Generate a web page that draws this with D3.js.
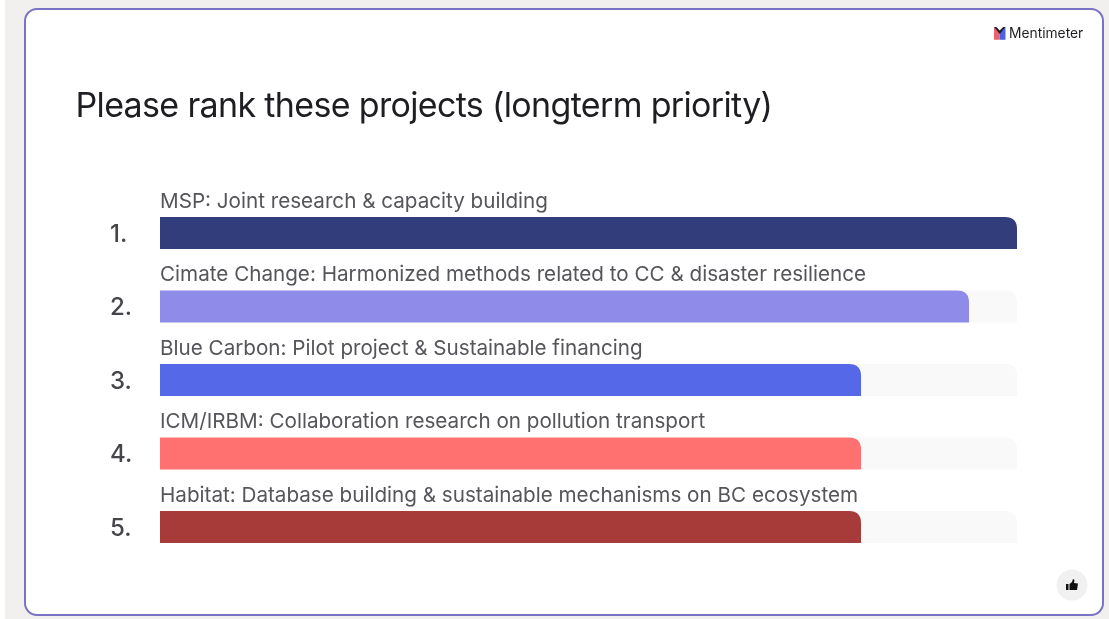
<!DOCTYPE html>
<html lang="en">
<head>
<meta charset="utf-8">
<title>Please rank these projects</title>
<script src="https://d3js.org/d3.v7.min.js"></script>
<style>
    html, body { margin: 0; padding: 0; background: #fff; overflow: hidden; }
    /* the reference is a soft screenshot, so take the edge off a little */
    svg { display: block; font-family: Inter, "Noto Sans", sans-serif; filter: blur(0.4px); }
</style>
</head>
<body>
<svg id="chart" width="1109" height="619"></svg>
<script>
const title = "Please rank these projects (longterm priority)";
const brand = "Mentimeter";
const ranks = ["1.", "2.", "3.", "4.", "5."];
const projects = [
    "MSP: Joint research & capacity building",
    "Cimate Change: Harmonized methods related to CC & disaster resilience",
    "Blue Carbon: Pilot project & Sustainable financing",
    "ICM/IRBM: Collaboration research on pollution transport",
    "Habitat: Database building & sustainable mechanisms on BC ecosystem"
];
// share of the top score
const scores = [1, 0.944, 0.818, 0.818, 0.818];
const colors = ["#323e7c", "#8e8ce8", "#5468e8", "#ff7070", "#a63b3a"];

const svg = d3.select("#chart");

// slide background + frame
svg.append("rect").attr("x", 5).attr("width", 1104).attr("height", 619).attr("fill", "#f1f0ee");
svg.append("rect")
    .attr("x", 25).attr("y", 9).attr("width", 1078).attr("height", 606).attr("rx", 12)
    .attr("fill", "#fff").attr("stroke", "#7a72c4").attr("stroke-width", 2);

svg.append("text").attr("x", 75.5).attr("y", 117)
    .attr("font-size", 34).attr("letter-spacing", -0.66).attr("fill", "#1e1e22")
    .text(title);

// logo
const logo = svg.append("g").attr("transform", "translate(994,27) scale(1.15)");
logo.append("path").attr("d", "M0 0L5 5L5 11L0 11Z").attr("fill", "#e8636b");
logo.append("path").attr("d", "M5 5L10 0L10 11L5 11Z").attr("fill", "#4a63e0");
logo.append("path").attr("d", "M0 0L2 0L5 3L8 0L10 0L5 6Z").attr("fill", "#1b1b2a");
svg.append("text").attr("x", 1009).attr("y", 38)
    .attr("font-size", 13.8).attr("fill", "#1e1e22")
    .text(brand);

// bars
const x = d3.scaleLinear().domain([0, 1]).range([160, 1017]);
const y = d3.scaleBand().domain(ranks).range([217, 543]).paddingInner(0.5646).paddingOuter(0);

function barPath(x0, x1, top, h, r) {
    const p = d3.path();
    p.moveTo(x0, top + h);
    p.lineTo(x0, top);
    p.lineTo(x1 - r, top);
    p.quadraticCurveTo(x1, top, x1, top + r);
    p.lineTo(x1, top + h);
    p.closePath();
    return p.toString();
}

const rows = svg.selectAll("g.row")
    .data(ranks)
    .enter()
    .append("g")
    .attr("class", "row");

// pale track behind each bar
rows.append("path")
    .attr("d", d => barPath(x(0), x(1), y(d), y.bandwidth(), 12))
    .attr("fill", "#f9f9f9");

rows.append("path")
    .attr("d", (d, i) => barPath(x(0), x(scores[i]), y(d), y.bandwidth(), 12))
    .attr("fill", (d, i) => colors[i]);

rows.append("text")
    .attr("x", 160)
    .attr("y", d => y(d) - 9)
    .attr("font-size", 20.65)
    .attr("fill", "#55555a")
    .text((d, i) => projects[i]);

rows.append("text")
    .attr("x", 110)
    .attr("y", d => y(d) + 25)
    .attr("font-size", 24)
    .attr("font-weight", 500)
    .attr("fill", "#45454a")
    .text(d => d);

// reaction button
svg.append("circle").attr("cx", 1072).attr("cy", 585).attr("r", 15.5).attr("fill", "#f1f1f1");
const thumb = svg.append("g").attr("transform", "translate(1066,579)").attr("fill", "#111");
thumb.append("rect").attr("x", 0).attr("y", 5).attr("width", 2.5).attr("height", 6);
thumb.append("path").attr("d", "M3.5 5L6 3L7 0L8.5 1L8 4L12 4.5L11 11L3.5 11Z");
</script>
</body>
</html>
